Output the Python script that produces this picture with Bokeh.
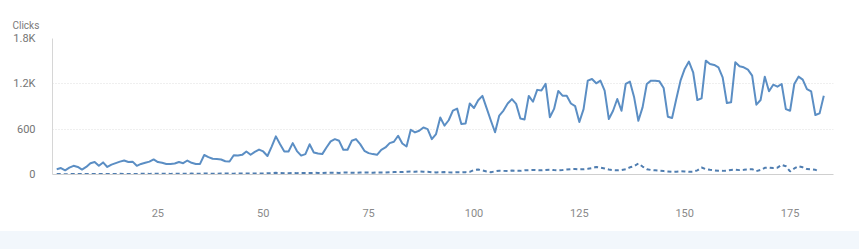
from bokeh.plotting import figure
from bokeh.models import Range1d, FixedTicker, Title, Div
from bokeh.layouts import column
from bokeh.embed import file_html
from bokeh.resources import INLINE

# Daily clicks (current period, solid) - days 1..183
clicks = [
    70, 85, 55, 90, 115, 100, 65, 100, 150, 165,
    115, 160, 100, 130, 150, 170, 185, 165, 170, 115,
    140, 155, 170, 200, 165, 155, 140, 140, 145, 165,
    150, 185, 155, 140, 140, 258, 230, 208, 205, 199,
    175, 172, 255, 252, 260, 305, 262, 300, 330, 305,
    245, 370, 505, 400, 305, 305, 415, 310, 250, 270,
    400, 292, 278, 270, 358, 438, 468, 446, 327, 327,
    446, 468, 402, 314, 283, 270, 261, 327, 358, 415,
    433, 513, 411, 371, 592, 557, 579, 623, 601, 468,
    535, 755, 647, 718, 846, 872, 669, 674, 939, 881,
    983, 1040, 879, 714, 559, 780, 846, 939, 997, 935,
    742, 729, 1040, 963, 1120, 1111, 1200, 758, 868, 1106,
    1043, 1043, 940, 905, 695, 866, 1242, 1264, 1207, 1242,
    1109, 734, 844, 999, 844, 1198, 1229, 1021, 712, 888,
    1198, 1242, 1242, 1233, 1145, 765, 747, 999, 1242, 1397,
    1494, 1353, 986, 1008, 1507, 1463, 1450, 1419, 1286, 946,
    955, 1485, 1432, 1419, 1388, 1308, 924, 986, 1295, 1101,
    1189, 1162, 1198, 866, 844, 1198, 1295, 1255, 1131, 1101,
    787, 809, 1043,
]

# Comparison series (dashed)
clicks_prev = [
    5, 6, 4, 5, 7, 6, 5, 8, 7, 6,
    5, 7, 8, 6, 7, 9, 8, 7, 6, 8,
    9, 10, 8, 9, 11, 10, 9, 8, 10, 11,
    9, 10, 12, 11, 10, 13, 12, 11, 10, 12,
    13, 12, 11, 13, 14, 13, 12, 14, 15, 14,
    16, 18, 22, 20, 18, 17, 19, 18, 20, 19,
    20, 22, 21, 19, 22, 24, 23, 21, 25, 26,
    24, 22, 25, 27, 26, 24, 28, 27, 26, 29,
    32, 35, 33, 38, 40, 36, 42, 38, 35, 30,
    28, 30, 32, 29, 27, 30, 28, 31, 35, 60,
    66, 55, 40, 30, 42, 50, 48, 45, 52, 50,
    48, 55, 58, 60, 57, 55, 60, 62, 58, 56,
    60, 65, 70, 72, 68, 70, 75, 85, 100, 92,
    80, 65, 58, 55, 60, 70, 95, 110, 146, 105,
    70, 60, 55, 50, 45, 40, 35, 38, 42, 40,
    36, 38, 55, 92, 70, 62, 55, 50, 48, 52,
    60, 65, 58, 62, 68, 70, 45, 60, 88, 92,
    85, 90, 128, 110, 40, 80, 110, 95, 72, 68,
    62, 40,
]

days = list(range(1, len(clicks) + 1))
days_prev = list(range(1, len(clicks_prev) + 1))

y_ticks = [0, 600, 1200, 1800]
y_tick_labels = {0: "0", 600: "600", 1200: "1.2K", 1800: "1.8K"}
x_ticks = [25, 50, 75, 100, 125, 150, 175]
y_label = "Clicks"

FONT = "Roboto"

p = figure(width=859, height=231, output_backend="svg", toolbar_location=None,
           x_range=Range1d(0, 185.3), y_range=Range1d(0, 1800),
           min_border_left=52, min_border_right=26, min_border_top=38,
           min_border_bottom=57)
p.outline_line_color = None
p.background_fill_color = "white"
p.border_fill_color = "white"

t = Title(text=y_label, align="left", offset=-40, standoff=15,
          text_font=FONT, text_font_size="10px", text_font_style="normal",
          text_color="#7a7a7a")
p.add_layout(t, "above")

p.line(days, clicks, line_color="#5b8ec4", line_width=2, line_join="round")
p.line(days_prev, clicks_prev, line_color="#4f7db0", line_width=2,
       line_dash="4 3")

# y axis
p.yaxis.ticker = FixedTicker(ticks=y_ticks)
p.yaxis.major_label_overrides = y_tick_labels
p.yaxis.major_tick_line_color = None
p.yaxis.minor_tick_line_color = None
p.yaxis.axis_line_color = "#d6d6d6"
p.yaxis.major_label_standoff = 11
p.yaxis.major_label_text_font = FONT
p.yaxis.major_label_text_font_size = "11px"
p.yaxis.major_label_text_color = "#757575"

# x axis
p.xaxis.ticker = FixedTicker(ticks=x_ticks)
p.xaxis.major_tick_line_color = None
p.xaxis.minor_tick_line_color = None
p.xaxis.axis_line_color = "#cfcfcf"
p.xaxis.major_label_standoff = 28
p.xaxis.major_label_text_font = FONT
p.xaxis.major_label_text_font_size = "11px"
p.xaxis.major_label_text_color = "#8a8a8a"

# grid
p.xgrid.grid_line_color = None
p.ygrid.ticker = FixedTicker(ticks=[600, 1200])
p.ygrid.grid_line_color = "#dedede"
p.ygrid.grid_line_dash = "1 2"

strip = Div(text="", width=859, height=18,
            styles={"background-color": "#f2f7fc", "margin": "0"})

layout = column(p, strip, spacing=0)

open("out.html", "w").write(file_html(layout, INLINE))
